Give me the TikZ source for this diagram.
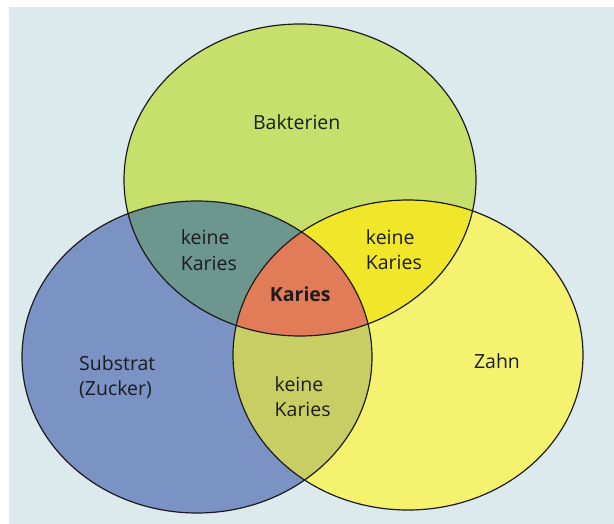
\documentclass[tikz,border=0pt]{standalone}
\usepackage{fontspec}
\setmainfont{Open Sans}
\definecolor{paper}{RGB}{220,234,238}
\definecolor{bactgreen}{RGB}{199,224,108}
\definecolor{sugarblue}{RGB}{122,146,196}
\definecolor{toothyellow}{RGB}{245,242,112}
\definecolor{bactsugar}{RGB}{108,150,142}
\definecolor{bacttooth}{RGB}{240,231,42}
\definecolor{sugartooth}{RGB}{200,206,100}
\definecolor{cariesorange}{RGB}{226,124,88}
\definecolor{ink}{RGB}{28,28,28}
\tikzset{
  outline/.style={draw=ink, line width=1.2pt},
  label/.style={font=\fontsize{19.5}{25}\selectfont, text=ink, inner sep=0pt},
}
\newcommand{\twolines}[2]{\begin{tabular}[t]{@{}l@{}}#1\\#2\end{tabular}}
% the three sets, drawn as ellipses
\newcommand{\bactset}{(cA) ellipse [x radius=176pt, y radius=156pt]}
\newcommand{\sugarset}{(cB) ellipse [x radius=175pt, y radius=156pt]}
\newcommand{\toothset}{(cC) ellipse [x radius=175pt, y radius=155pt]}
\begin{document}
\begin{tikzpicture}[x=1pt, y=-1pt]
  \useasboundingbox (0,0) rectangle (614,524);
  % page background with the white scan edge
  \fill[white] (0,0) rectangle (614,524);
  \fill[paper] (9,7) rectangle (614,524);

  \coordinate (cA) at (300,180);
  \coordinate (cB) at (197,357);
  \coordinate (cC) at (408,355);

  % single sets
  \fill[bactgreen] \bactset;
  \fill[sugarblue] \sugarset;
  \fill[toothyellow] \toothset;
  % pairwise overlaps
  \begin{scope}
    \clip \bactset;
    \fill[bactsugar] \sugarset;
    \fill[bacttooth] \toothset;
  \end{scope}
  \begin{scope}
    \clip \sugarset;
    \fill[sugartooth] \toothset;
  \end{scope}
  % overlap of all three
  \begin{scope}
    \clip \bactset;
    \clip \sugarset;
    \fill[cariesorange] \toothset;
  \end{scope}
  % outlines
  \draw[outline] \bactset;
  \draw[outline] \sugarset;
  \draw[outline] \toothset;

  % labels
  \node[label, anchor=base] (bakterien) at (296.7,129.3) {Bakterien};
  \node[label, anchor=base west] (keineAB) at (180.7,245) {\twolines{keine}{Karies}};
  \node[label, anchor=base west] (keineAC) at (365.7,244) {\twolines{keine}{Karies}};
  \node[label, anchor=base, font=\fontsize{19.5}{25}\selectfont\bfseries] (karies) at (300.3,301.7) {Karies};
  \node[label, anchor=base west] (substrat) at (79,370.7) {\twolines{Substrat}{(Zucker)}};
  \node[label, anchor=base] (zahn) at (497,368.3) {Zahn};
  \node[label, anchor=base west] (keineBC) at (274.5,391.7) {\twolines{keine}{Karies}};
\end{tikzpicture}
\end{document}
